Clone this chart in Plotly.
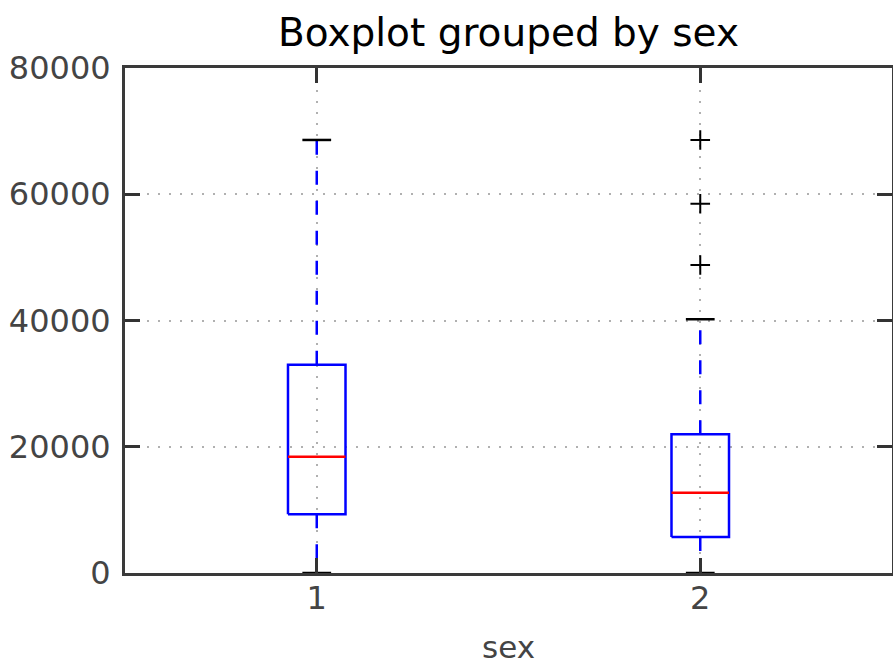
import plotly.graph_objects as go

categories = [1, 2]
q1 = [9300, 5700]
median = [18400, 12700]
q3 = [33000, 22000]
lower = [0, 0]
upper = [68600, 40200]
fliers_x = [2, 2, 2]
fliers_y = [68600, 58500, 48800]

y_ticks = [0, 20000, 40000, 60000, 80000]
tick_labels = ["0", "20000", "40000", "60000", "80000"]

half_w = 0.075
cap_w = 0.0375

fig = go.Figure()
for i, p in enumerate(categories):
    # whiskers
    fig.add_trace(go.Scatter(x=[p, p], y=[q3[i], upper[i]], mode="lines",
                             line=dict(color="#0000ff", width=2.5, dash="14px,16px"),
                             showlegend=False, hoverinfo="skip"))
    fig.add_trace(go.Scatter(x=[p, p], y=[q1[i], lower[i]], mode="lines",
                             line=dict(color="#0000ff", width=2.5, dash="14px,16px"),
                             showlegend=False, hoverinfo="skip"))
    # caps
    for v in (upper[i], lower[i]):
        fig.add_trace(go.Scatter(x=[p - cap_w, p + cap_w], y=[v, v], mode="lines",
                                 line=dict(color="#000000", width=2.5),
                                 showlegend=False, hoverinfo="skip"))
    # box
    fig.add_trace(go.Scatter(x=[p - half_w, p + half_w, p + half_w, p - half_w, p - half_w],
                             y=[q1[i], q1[i], q3[i], q3[i], q1[i]], mode="lines",
                             line=dict(color="#0000ff", width=2.5),
                             showlegend=False, hoverinfo="skip"))
    # median
    fig.add_trace(go.Scatter(x=[p - half_w, p + half_w], y=[median[i], median[i]], mode="lines",
                             line=dict(color="#ff0000", width=2.5),
                             showlegend=False, hoverinfo="skip"))

fig.add_trace(go.Scatter(x=fliers_x, y=fliers_y, mode="markers",
                         marker=dict(symbol="cross-thin", size=14,
                                     line=dict(color="#000000", width=2)),
                         showlegend=False, hoverinfo="skip"))

axis_common = dict(showline=True, linewidth=3, linecolor="#3a3a3a", mirror="allticks",
                   ticks="inside", ticklen=15, tickwidth=3, tickcolor="#333333",
                   showgrid=True, gridcolor="#b0b0b0", griddash="2px,9px", gridwidth=2,
                   zeroline=False, automargin=False,
                   tickfont=dict(family="DejaVu Sans", size=32, color="#444444"))

fig.update_xaxes(range=[0.5, 2.5], tickvals=categories, ticktext=[str(c) for c in categories],
                 ticklabelstandoff=-5,
                 title=dict(text="sex", font=dict(family="DejaVu Sans", size=31, color="#444444"),
                            standoff=20),
                 **axis_common)
fig.update_yaxes(range=[0, 80000], tickvals=y_ticks, ticktext=tick_labels,
                 ticklabelstandoff=5, **axis_common)

fig.update_layout(
    width=893, height=667,
    margin=dict(l=125, r=1, t=68, b=94),
    plot_bgcolor="white", paper_bgcolor="white",
    title=dict(text="Boxplot grouped by sex", x=0.5, xanchor="center", xref="paper",
               y=1 - 32 / 667, yanchor="middle",
               font=dict(family="DejaVu Sans", size=39, color="#000000")),
)

fig.write_html("out.html", config={"displayModeBar": False},
               post_script="document.body.style.margin='0';document.body.style.overflow='hidden';")
